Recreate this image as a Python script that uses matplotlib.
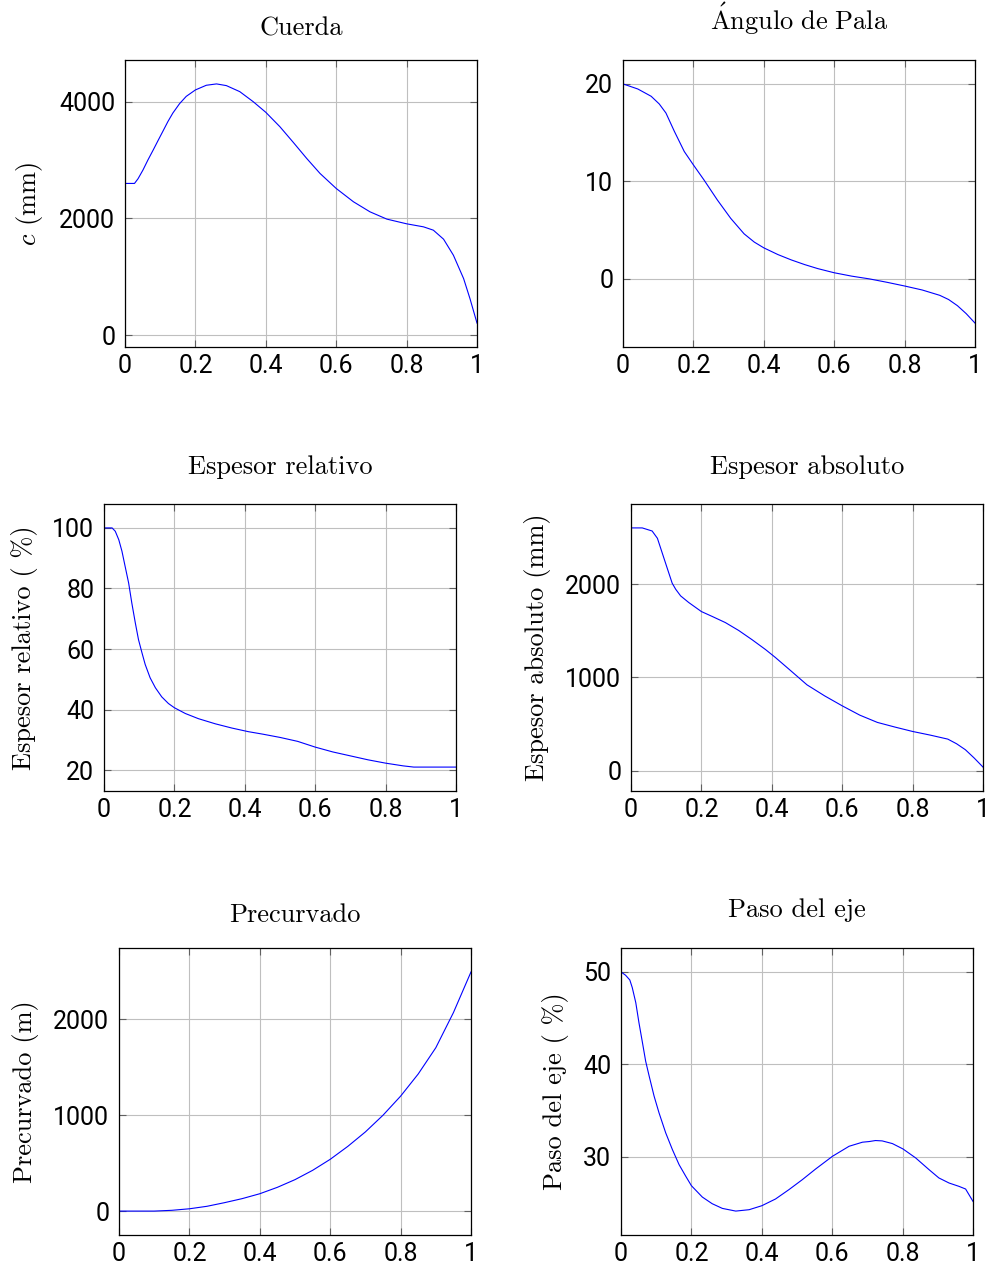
import matplotlib
matplotlib.use("Agg")
import matplotlib.pyplot as plt

# ---- datos ----
r_cuerda = [0, 0.027, 0.037, 0.051, 0.065, 0.08, 0.094, 0.108, 0.122, 0.136, 0.155, 0.174,
            0.2, 0.231, 0.26, 0.288, 0.326, 0.364, 0.4, 0.44, 0.478, 0.516, 0.554, 0.6,
            0.649, 0.696, 0.744, 0.8, 0.848, 0.876, 0.905, 0.933, 0.962, 0.98, 1]
cuerda = [2600, 2600, 2680, 2829, 3000, 3171, 3335, 3497, 3660, 3805, 3965, 4090,
          4200, 4280, 4303, 4274, 4171, 4000, 3817, 3571, 3303, 3029, 2771, 2514,
          2286, 2114, 1989, 1909, 1857, 1800, 1646, 1371, 971, 629, 210]

r_angulo = [0, 0.042, 0.08, 0.103, 0.122, 0.146, 0.174, 0.2, 0.23, 0.268, 0.306, 0.344,
            0.373, 0.4, 0.44, 0.478, 0.516, 0.553, 0.6, 0.65, 0.7, 0.75, 0.8, 0.85, 0.9,
            0.925, 0.95, 0.975, 1]
angulo = [20, 19.48, 18.73, 17.94, 17.01, 15.12, 13.06, 11.68, 10.14, 8.08, 6.19, 4.6,
          3.75, 3.16, 2.47, 1.92, 1.44, 1.03, 0.6, 0.25, -0.03, -0.38, -0.76, -1.17, -1.72,
          -2.15, -2.78, -3.6, -4.57]

r_esp_rel = [0, 0.023, 0.032, 0.042, 0.051, 0.06, 0.07, 0.079, 0.089, 0.098, 0.108, 0.117,
             0.131, 0.146, 0.164, 0.183, 0.2, 0.231, 0.268, 0.316, 0.363, 0.41, 0.45, 0.5,
             0.55, 0.6, 0.65, 0.7, 0.75, 0.8, 0.85, 0.88, 1]
esp_rel = [100, 100, 98.9, 96.1, 92.3, 87.3, 81.8, 75.2, 68.6, 63.1, 58.7, 54.9,
           50.5, 47.2, 44.2, 42.0, 40.6, 38.7, 37.0, 35.3, 33.9, 32.7, 31.9, 30.8,
           29.5, 27.6, 26.0, 24.7, 23.4, 22.3, 21.4, 21.0, 21.0]

r_esp_abs = [0, 0.032, 0.06, 0.075, 0.089, 0.103, 0.117, 0.127, 0.141, 0.164, 0.2, 0.231,
             0.268, 0.306, 0.344, 0.382, 0.41, 0.45, 0.5, 0.55, 0.6, 0.65, 0.7, 0.75, 0.8,
             0.85, 0.9, 0.925, 0.95, 0.975, 1]
esp_abs = [2604, 2604, 2571, 2493, 2332, 2171, 2011, 1946, 1875, 1804, 1707, 1654,
           1589, 1504, 1405, 1300, 1215, 1085, 921, 803, 696, 596, 518, 468, 421,
           382, 339, 289, 225, 136, 39]

r_precurv = [0, 0.05, 0.1, 0.15, 0.2, 0.25, 0.3, 0.35, 0.4, 0.45, 0.5, 0.55, 0.6, 0.65, 0.7,
             0.75, 0.8, 0.85, 0.9, 0.95, 1]
precurv = [0, 0, 0, 8, 24, 50, 88, 130, 181, 248, 328, 425, 540, 675, 826, 1000, 1199, 1430,
           1704, 2070, 2495]

r_paso = [0, 0.013, 0.025, 0.032, 0.042, 0.051, 0.061, 0.07, 0.08, 0.094, 0.108, 0.127,
          0.146, 0.165, 0.184, 0.2, 0.231, 0.259, 0.288, 0.326, 0.364, 0.4, 0.439, 0.477,
          0.515, 0.553, 0.601, 0.648, 0.686, 0.705, 0.723, 0.742, 0.771, 0.801, 0.837,
          0.875, 0.903, 0.932, 0.96, 0.979, 1]
paso = [50, 49.64, 49.13, 48.3, 46.67, 44.5, 42.33, 40.34, 38.72, 36.55, 34.74, 32.57,
        30.76, 29.13, 27.87, 26.85, 25.62, 24.9, 24.39, 24.1, 24.25, 24.68, 25.41, 26.42,
        27.5, 28.66, 30.04, 31.12, 31.56, 31.63, 31.74, 31.7, 31.41, 30.83, 29.86,
        28.59, 27.69, 27.14, 26.78, 26.49, 25.15]

titulos = ["Cuerda", r"$\mathrm{\acute{A}ngulo\ de\ Pala}$", "Espesor relativo",
           "Espesor absoluto", "Precurvado", "Paso del eje"]
etiquetas_y = [r"$c$ (mm)", None, "Espesor relativo ( %)", "Espesor absoluto (mm)",
               "Precurvado (m)", "Paso del eje ( %)"]
yticks = [[0, 2000, 4000], [0, 10, 20], [20, 40, 60, 80, 100], [0, 1000, 2000],
          [0, 1000, 2000], [30, 40, 50]]
xticks = [0, 0.2, 0.4, 0.6, 0.8, 1]
xtick_labels = ["0", "0.2", "0.4", "0.6", "0.8", "1"]

series = [(r_cuerda, cuerda), (r_angulo, angulo), (r_esp_rel, esp_rel),
          (r_esp_abs, esp_abs), (r_precurv, precurv), (r_paso, paso)]

# ---- maquetacion (pixeles de la imagen de 988x1269) ----
W, H = 988, 1269
cajas = [(125, 60), (623, 60), (104, 504), (631, 504), (119, 948), (621, 948)]
ancho, alto = 352, 287
hueco_titulo = [25, 30, 30, 30, 26, 31]

plt.rcParams['mathtext.fontset'] = 'cm'
serif = ['cmr10', 'DejaVu Serif']
sans = ['Roboto', 'DejaVu Sans']

fig = plt.figure(figsize=(W / 100, H / 100), dpi=100)

for i, (xs, ys) in enumerate(series):
    x0, y0 = cajas[i]
    ax = fig.add_axes([x0 / W, 1 - (y0 + alto) / H, ancho / W, alto / H])
    ax.plot(xs, ys, color='blue', linewidth=0.8)
    ax.set_xlim(0, 1)
    lo, hi = min(ys), max(ys)
    m = 0.1 * (hi - lo)
    ax.set_ylim(lo - m, hi + m)

    ax.set_xticks(xticks)
    ax.set_xticklabels(xtick_labels)
    ax.set_yticks(yticks[i])
    ax.grid(True, color='#bfbfbf', linewidth=0.8)
    ax.set_axisbelow(True)
    ax.tick_params(direction='in', length=5, width=0.8, color='#606060',
                   top=True, right=True, labelsize=18)
    ax.tick_params(axis='x', pad=5)
    ax.tick_params(axis='y', pad=7)
    for lab in ax.get_xticklabels() + ax.get_yticklabels():
        lab.set_family(sans)
    for s in ax.spines.values():
        s.set_linewidth(0.9)

    ax.text(0.5, 1 + hueco_titulo[i] / alto, titulos[i], transform=ax.transAxes,
            ha='center', va='baseline', fontsize=19, family=serif)
    if etiquetas_y[i]:
        ax.set_ylabel(etiquetas_y[i], fontsize=19, family=serif, labelpad=10)

fig.savefig('out.png', dpi=100)
